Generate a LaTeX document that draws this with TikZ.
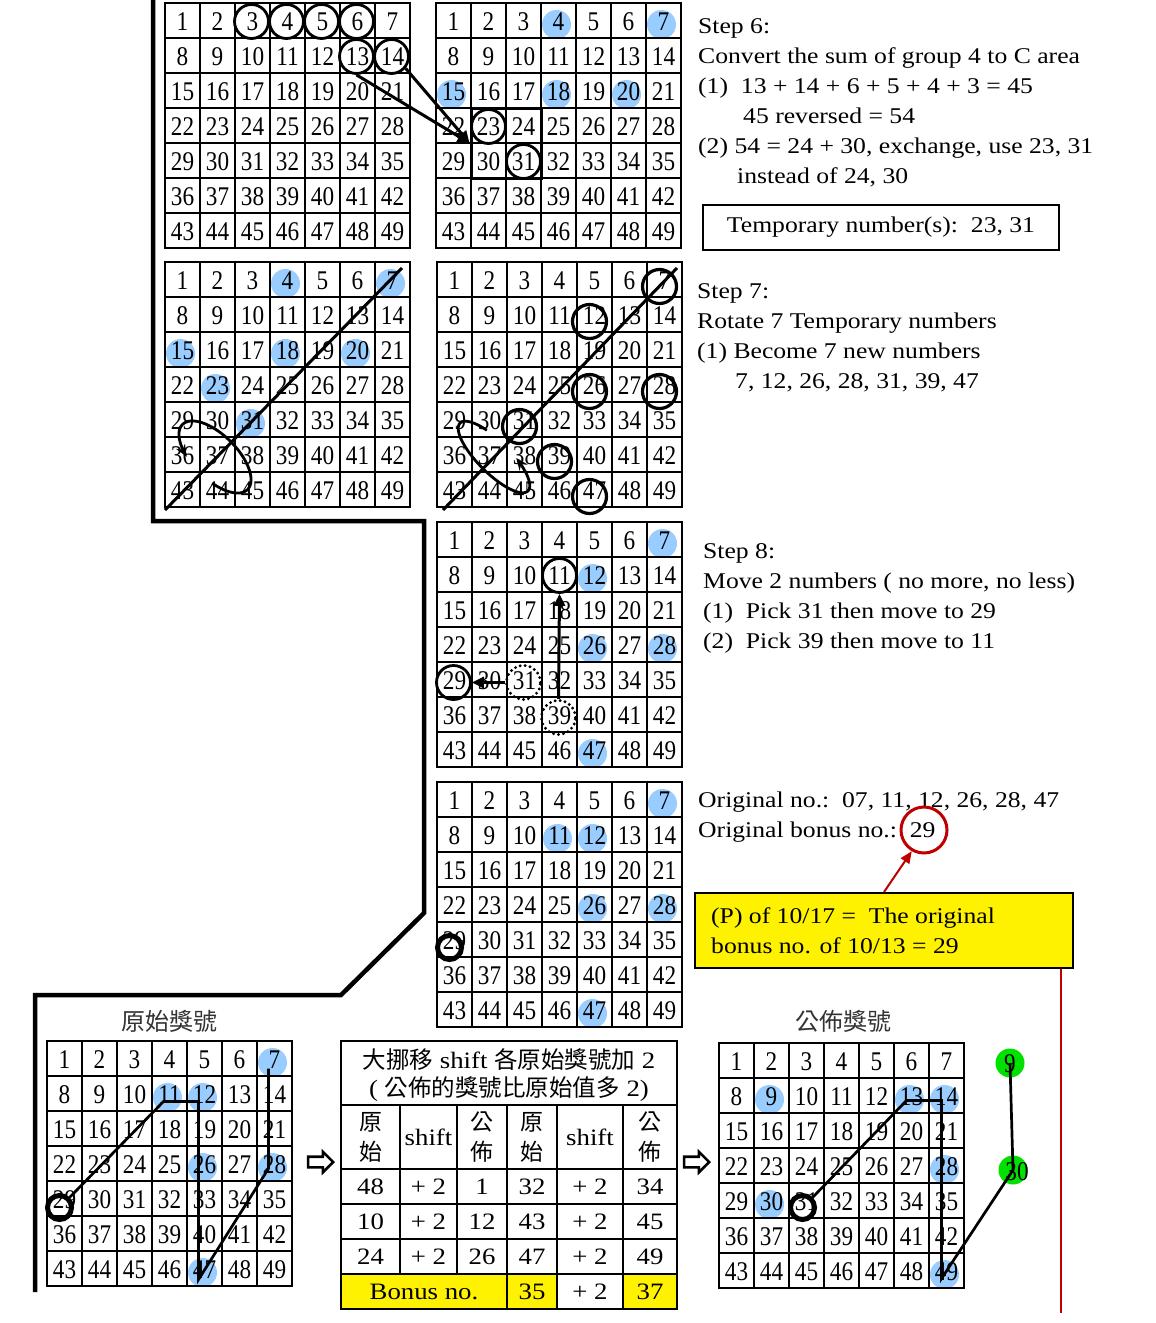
\documentclass[tikz,border=0pt]{standalone}
\usepackage{fontspec}
\setmainfont[FakeStretch=1.14]{Liberation Serif}
\newfontfamily\gridfont[FakeStretch=0.86]{Liberation Serif}
\newfontfamily\cjk{Noto Sans CJK TC}
\usetikzlibrary{arrows.meta,shapes.arrows}
\pgfdeclarelayer{bg}
\pgfsetlayers{bg,main}
\definecolor{lblue}{RGB}{153,204,255}
\definecolor{dred}{RGB}{192,0,0}
\definecolor{lgreen}{RGB}{0,225,0}
\tikzset{
  num/.style={font=\gridfont\fontsize{27}{27}\selectfont, inner sep=0pt},
  txt/.style={font=\fontsize{22.5}{27}\selectfont, inner sep=0pt, anchor=base west},
  tbl/.style={font=\fontsize{23.5}{30}\selectfont, inner sep=0pt, align=center},
  ring/.style={circle, draw, line width=2.8pt, minimum size=34pt, inner sep=0pt},
  dotring/.style={circle, draw, line width=3.2pt, minimum size=34pt, inner sep=0pt, dash pattern=on 0pt off 5pt, line cap=round},
  bring/.style={circle, draw, line width=5pt, minimum size=24pt, inner sep=0pt},
  thk/.style={line width=3pt},
  arr/.style={line width=3pt, -{Triangle[length=12pt,width=11pt]}},
  loopar/.style={line width=2.8pt, -{Stealth[length=12pt,width=10pt]}},
  tline/.style={line width=1.2pt},
  gdot/.style={circle, fill=lgreen, minimum size=29pt, inner sep=0pt},
  harrow/.style={single arrow, draw, fill=white, line width=2.6pt, minimum height=25pt, inner sep=4pt, single arrow head extend=5pt, single arrow tip angle=90},
}
\newcommand\numgrid[4]{%
  \foreach \ii in {0,...,7}{
    \draw[line width=2pt, line cap=rect] (#2,{#3+35*\ii}) -- ({#2+245},{#3+35*\ii});
    \draw[line width=#4, line cap=rect] ({#2+35*\ii},#3) -- ({#2+35*\ii},{#3+245});
  }
  \foreach \ii in {1,...,7}{
    \foreach \jj in {1,...,7}{
      \pgfmathtruncatemacro\nn{(\ii-1)*7+\jj}
      \node[num] (#1-\nn) at ({#2+35*(\jj-0.5)},{#3+35*(\ii-0.5)+1}) {\nn};
    }
  }
}
\begin{document}
\begin{tikzpicture}[x=1pt,y=-1pt]
\useasboundingbox (0,0) rectangle (1156,1323);

% ---------- grids ----------
\numgrid{g1}{165}{3}{1.3pt}
\numgrid{g2}{436}{3}{2pt}
\numgrid{g3}{165}{262}{1.3pt}
\numgrid{g4}{437}{262}{1.6pt}
\numgrid{g5}{437}{522}{1.3pt}
\numgrid{g6}{437}{782}{1.3pt}
\numgrid{g7}{47}{1041}{1.3pt}
\numgrid{g8}{719}{1043}{1.3pt}

% ---------- blue marks ----------
\begin{pgfonlayer}{bg}
\fill[white] (0,0) rectangle (1156,1323);
\foreach \k in {4,7,15,18,20} {\fill[lblue] ([shift={(-2,3)}]g2-\k.center) circle[radius=14.5pt];}
\foreach \k in {4,7,15,18,20,23,31} {\fill[lblue] ([shift={(-2,3)}]g3-\k.center) circle[radius=14.5pt];}
\foreach \k in {7,12,26,28,47} {\fill[lblue] ([shift={(-2,3)}]g5-\k.center) circle[radius=14.5pt];}
\foreach \k in {7,11,12,26,28,47} {\fill[lblue] ([shift={(-2,3)}]g6-\k.center) circle[radius=14.5pt];}
\foreach \k in {7,11,12,26,28,47} {\fill[lblue] ([shift={(-2,3)}]g7-\k.center) circle[radius=14.5pt];}
\foreach \k in {9,13,14,28,30,49} {\fill[lblue] ([shift={(-2,3)}]g8-\k.center) circle[radius=14.5pt];}
\end{pgfonlayer}

% ---------- grid 1 ----------
\foreach \k in {3,4,5,6,13,14} {\node[ring] (r1-\k) at ([shift={(-1,0)}]g1-\k.center) {};}
% ---------- grid 2 ----------
\node[ring] (r2-23) at (g2-23.center) {};
\node[ring] (r2-31) at (g2-31.center) {};
\node[draw, line width=3pt, minimum width=70pt, minimum height=70pt, inner sep=0pt] (rect2) at (506,143) {};
\draw[arr] (r1-13.south) -- (rect2.west);
\draw[arr] (r1-14.-40) -- (rect2.west);

% ---------- grid 3 ----------
\coordinate (d3a) at (165,510);
\coordinate (d3b) at (402,268);
\draw[thk] (d3a) -- (d3b);
\draw[loopar] plot[domain=-69:244, samples=90] ({215+0.707*(46*cos(\x)+22*sin(\x))},{457+0.707*(46*cos(\x)-22*sin(\x))});

% ---------- grid 4 ----------
\foreach \k in {7,12,26,28,31,39,47} {\node[ring, line width=3.2pt] (r4-\k) at ([shift={(-5,6)}]g4-\k.center) {};}
\coordinate (d4a) at (443,510);
\coordinate (d4b) at (677,268);
\draw[thk] (d4a) -- (d4b);
\draw[loopar] plot[domain=120:430, samples=90] ({494+0.707*(48*cos(\x)+16*sin(\x))},{457+0.707*(48*cos(\x)-16*sin(\x))});

% ---------- grid 5 ----------
\node[ring] (r5-11) at (g5-11.center) {};
\node[ring] (r5-29) at ([shift={(-1,2)}]g5-29.center) {};
\node[dotring] (r5-31) at ([shift={(-1,2)}]g5-31.center) {};
\node[dotring] (r5-39) at ([shift={(-1,2)}]g5-39.center) {};
\draw[arr] (r5-31.west) -- (r5-29.east);
\draw[arr] (r5-39.north) -- (r5-11.south);

% ---------- grid 6 ----------
\node[bring] (b6) at ([shift={(-5,7)}]g6-29.center) {};

% ---------- grid 7 ----------
\node[bring] (b7) at ([shift={(-5,8)}]g7-29.center) {};
\draw[line width=2.7pt] (b7.north east) -- ([shift={(-6,7)}]g7-11.center) -- ([shift={(-6,7)}]g7-12.center)
  -- ([shift={(-6,10)}]g7-47.center) -- ([shift={(-6,4)}]g7-28.center) -- ([shift={(-6,9)}]g7-7.center);
\node[font=\cjk\fontsize{24}{24}\selectfont, text=black!80, inner sep=0pt] (lab7) at (169,1021) {原始獎號};

% ---------- grid 8 ----------
\node[bring] (b8) at ([shift={(-4,6)}]g8-31.center) {};
\node[gdot] (gn9) at (1010,1063) {};
\node[gdot] (gn30) at (1013,1170) {};
\draw[line width=2.7pt] (b8.north east) -- ([shift={(-5,4)}]g8-13.center) -- ([shift={(-5,4)}]g8-14.center)
  -- ([shift={(-5,7)}]g8-49.center) -- (gn30.center) -- (gn9.center);
\node[num] (t9) at (1010,1064) {9};
\node[num] (t30) at (1017,1172) {30};
\node[font=\cjk\fontsize{24}{24}\selectfont, text=black!80, inner sep=0pt] (lab8) at (843,1021) {公佈獎號};

% ---------- big frame line ----------
\coordinate (p1) at (153,0);
\coordinate (p2) at (153,521);
\coordinate (p3) at (424,521);
\coordinate (p4) at (424,913);
\coordinate (p5) at (341,995);
\coordinate (p6) at (35,995);
\coordinate (p7) at (35,1292);
\draw[line width=4.5pt] (p1) -- (p2) -- (p3) -- (p4) -- (p5) -- (p6) -- (p7);

% ---------- hollow arrows ----------
\node[harrow] (ha1) at (318,1162) {};
\node[harrow] (ha2) at (694,1162) {};

% ---------- table ----------
\fill[yellow] (341,1274) rectangle (557,1309);
\fill[yellow] (623,1274) rectangle (677,1309);
\draw[tline] (341,1041) rectangle (677,1309);
\foreach \yy in {1105,1169,1204,1239,1274} {\draw[tline] (341,\yy) -- (677,\yy);}
\foreach \xx in {400,457} {\draw[tline] (\xx,1105) -- (\xx,1274);}
\foreach \xx in {507,557,623} {\draw[tline] (\xx,1105) -- (\xx,1309);}
\node[tbl] (th1) at (509,1060) {{\cjk 大挪移} shift {\cjk 各原始獎號加} 2};
\node[tbl] (th2) at (509,1089) {( {\cjk 公佈的獎號比原始值多} 2)};
\node[tbl, font=\cjk\fontsize{23}{30}\selectfont] (s1) at (370.5,1137) {原\\始};
\node[tbl] (s2) at (428.5,1137) {shift};
\node[tbl, font=\cjk\fontsize{23}{30}\selectfont] (s3) at (482,1137) {公\\佈};
\node[tbl, font=\cjk\fontsize{23}{30}\selectfont] (s4) at (532,1137) {原\\始};
\node[tbl] (s5) at (590,1137) {shift};
\node[tbl, font=\cjk\fontsize{23}{30}\selectfont] (s6) at (650,1137) {公\\佈};
\foreach \a/\b/\c/\d/\e/\f/\yy/\rr in {48/+ 2/1/32/+ 2/34/1187/1, 10/+ 2/12/43/+ 2/45/1222/2, 24/+ 2/26/47/+ 2/49/1257/3}{
  \node[tbl] (c1-\rr) at (370.5,\yy) {\a};
  \node[tbl] (c2-\rr) at (428.5,\yy) {\b};
  \node[tbl] (c3-\rr) at (482,\yy) {\c};
  \node[tbl] (c4-\rr) at (532,\yy) {\d};
  \node[tbl] (c5-\rr) at (590,\yy) {\e};
  \node[tbl] (c6-\rr) at (650,\yy) {\f};
}
\node[tbl] (bn) at (424,1292) {Bonus no.};
\node[tbl] (bn35) at (532,1292) {35};
\node[tbl] (bnp) at (590,1292) {+ 2};
\node[tbl] (bn37) at (650,1292) {37};

% ---------- step 6 text ----------
\node[txt] (s6l1) at (698,33) {Step 6:};
\node[txt] (s6l2) at (698,63) {Convert the sum of group 4 to C area};
\node[txt] (s6l3) at (698,93) {(1)\ \ 13 + 14 + 6 + 5 + 4 + 3 = 45};
\node[txt] (s6l4) at (743,123) {45 reversed = 54};
\node[txt] (s6l5) at (698,153) {(2) 54 = 24 + 30, exchange, use 23, 31};
\node[txt] (s6l6) at (737,183) {instead of 24, 30};
\node[draw, line width=2pt, minimum width=356pt, minimum height=45pt, inner sep=0pt, font=\fontsize{22.5}{27}\selectfont] (tmp) at (881,227.5) {Temporary number(s):\ \ 23, 31};

% ---------- step 7 text ----------
\node[txt] (s7l1) at (697,298) {Step 7:};
\node[txt] (s7l2) at (697,328) {Rotate 7 Temporary numbers};
\node[txt] (s7l3) at (697,358) {(1) Become 7 new numbers};
\node[txt] (s7l4) at (735,388) {7, 12, 26, 28, 31, 39, 47};

% ---------- step 8 text ----------
\node[txt] (s8l1) at (703,558) {Step 8:};
\node[txt] (s8l2) at (703,588) {Move 2 numbers ( no more, no less)};
\node[txt] (s8l3) at (703,618) {(1)\ \ Pick 31 then move to 29};
\node[txt] (s8l4) at (703,648) {(2)\ \ Pick 39 then move to 11};

% ---------- original numbers ----------
\node[txt] (o1) at (698,807) {Original no.:\ \ 07, 11, 12, 26, 28, 47};
\node[txt] (o2) at (698,837) {Original bonus no.:\ \ 29};
\node[circle, draw=dred, line width=3pt, minimum size=46pt, inner sep=0pt] (rc) at (924,830) {};
\node[draw, fill=yellow, line width=2pt, minimum width=378pt, minimum height=75pt, inner sep=0pt] (yb) at (884,930.5) {};
\node[txt] (y1) at (711,923) {(P) of 10/17 =\ \ The original};
\node[txt] (y2) at (711,953) {bonus no. of 10/13 = 29};
\draw[dred, line width=2pt, -{Triangle[length=12pt,width=10pt]}] (yb.north) -- (rc.240);
\coordinate (rl) at (1061,1313);
\draw[dred, line width=2pt] (yb.south -| rl) -- (rl);
\end{tikzpicture}
\end{document}
